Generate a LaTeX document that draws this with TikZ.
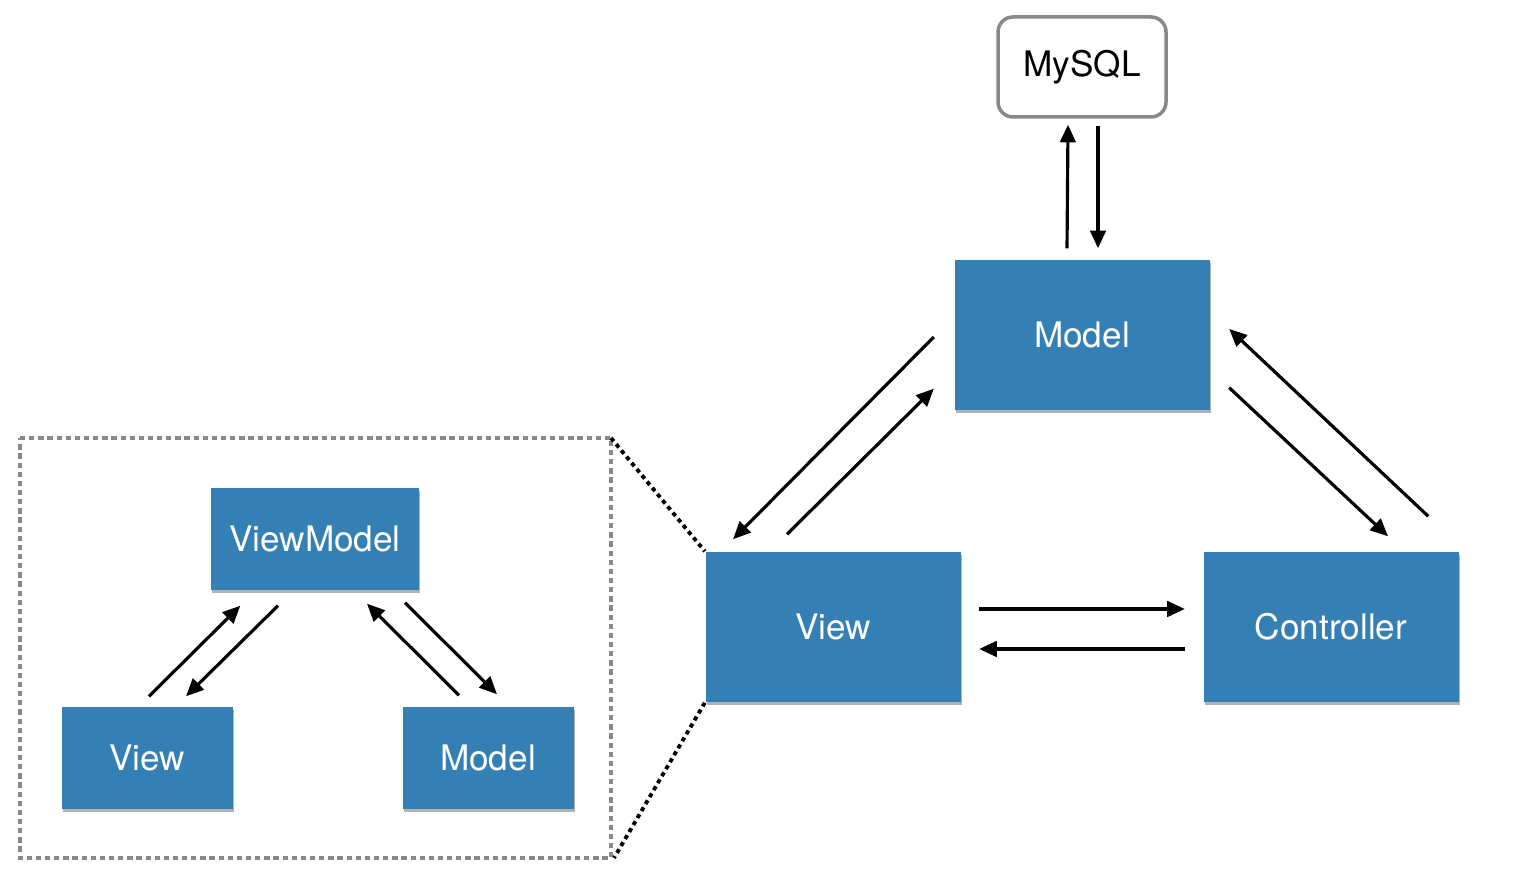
\documentclass[tikz,border=0pt]{standalone}
\usepackage{fontspec}
\setmainfont{TeX Gyre Heros}
\usetikzlibrary{arrows.meta}
\usetikzlibrary{shadows}
\definecolor{boxblue}{RGB}{52,128,181}
\definecolor{linegray}{RGB}{136,136,136}

\begin{document}
\begin{tikzpicture}[
    bluebox/.style={rectangle,fill=boxblue,text=white,inner sep=0pt,
      drop shadow={shadow xshift=0.01cm,shadow yshift=-0.03cm,opacity=0.3,fill=black}},
    bigbox/.style={bluebox,minimum width=2.55cm,minimum height=1.5cm},
    smallbox/.style={bluebox,minimum width=1.71cm,minimum height=1.02cm},
    dbbox/.style={rectangle,draw=linegray,line width=1pt,rounded corners=0.15cm,
      minimum width=1.68cm,minimum height=1.0cm,inner sep=0pt},
    arr/.style={line width=0.9pt,-{Triangle[length=5pt,width=4.4pt]}},
    font=\fontsize{10}{12}\selectfont]
    \useasboundingbox (0,0) rectangle (15.22,8.76);

    % MVC
    \node[dbbox] (mysql) at (10.82,8.09) {MySQL};
    \node[bigbox] (model) at (10.82,5.41) {Model};
    \node[bigbox] (view) at (8.33,2.49) {View};
    \node[bigbox] (controller) at (13.31,2.49) {Controller};

    \draw[arr] ([xshift=-0.15cm,yshift=0.11cm]model.north) -- ([xshift=-0.14cm,yshift=-0.06cm]mysql.south);
    \draw[arr] ([xshift=0.16cm,yshift=-0.07cm]mysql.south) -- ([xshift=0.16cm,yshift=0.11cm]model.north);

    \draw[arr] ([xshift=-0.20cm,yshift=-0.02cm]model.west) -- ([xshift=-1.00cm,yshift=0.12cm]view.north);
    \draw[arr] ([xshift=-0.46cm,yshift=0.17cm]view.north) -- ([xshift=-0.20cm,yshift=0.22cm]model.south west);

    \draw[arr] ([xshift=-0.31cm,yshift=0.35cm]controller.north east) -- ([xshift=0.19cm,yshift=0.06cm]model.east);
    \draw[arr] ([xshift=0.19cm,yshift=0.23cm]model.south east) -- ([xshift=0.57cm,yshift=0.15cm]controller.north);

    \draw[arr] ([xshift=0.18cm,yshift=0.18cm]view.east) -- ([xshift=-0.18cm,yshift=0.18cm]controller.west);
    \draw[arr] ([xshift=-0.18cm,yshift=-0.22cm]controller.west) -- ([xshift=0.18cm,yshift=-0.22cm]view.east);

    % MVVM
    \coordinate (frameNW) at (0.20,4.38);
    \coordinate (frameNE) at (6.11,4.38);
    \coordinate (frameSE) at (6.11,0.18);
    \coordinate (frameSW) at (0.20,0.18);
    \draw[linegray,line width=1pt,dash pattern=on 1.5pt off 1.1pt]
      (frameNW) -- (frameNE) -- (frameSE) -- (frameSW) -- cycle;
    \draw[line width=1.1pt,dash pattern=on 1.2pt off 1.1pt] (frameNE) -- (view.north west);
    \draw[line width=1.1pt,dash pattern=on 1.2pt off 1.1pt] (view.south west) -- ([xshift=0.03cm]frameSE);

    \node[bluebox,minimum width=2.08cm,minimum height=1.02cm] (vm) at (3.15,3.37) {ViewModel};
    \node[smallbox] (sview) at (1.47,1.18) {View};
    \node[smallbox] (smodel) at (4.88,1.18) {Model};

    \draw[arr] ([xshift=0.02cm,yshift=0.10cm]sview.north) -- ([xshift=0.30cm,yshift=-0.15cm]vm.south west);
    \draw[arr] ([xshift=-0.37cm,yshift=-0.15cm]vm.south) -- ([xshift=0.39cm,yshift=0.10cm]sview.north);
    \draw[arr] ([xshift=-0.29cm,yshift=0.11cm]smodel.north) -- ([xshift=0.52cm,yshift=-0.13cm]vm.south);
    \draw[arr] ([xshift=0.90cm,yshift=-0.12cm]vm.south) -- ([xshift=0.09cm,yshift=0.12cm]smodel.north);

  \end{tikzpicture}
\end{document}
